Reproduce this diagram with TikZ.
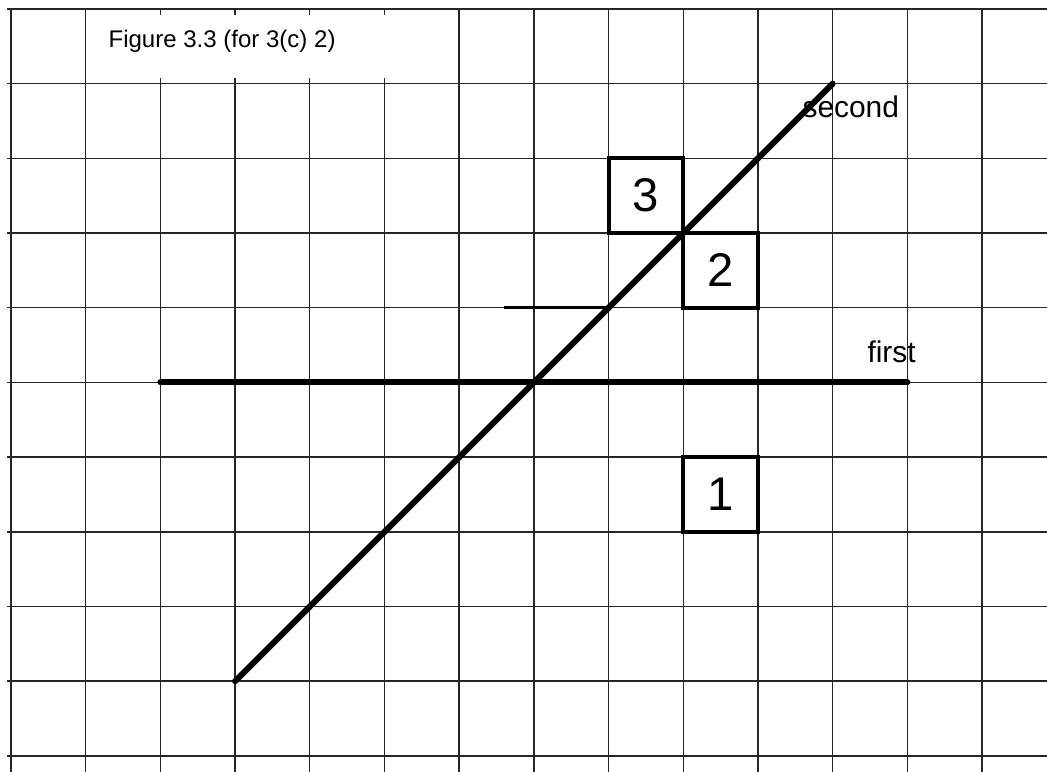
\documentclass[tikz,border=0pt]{standalone}
\usepackage{fontspec}
\setmainfont{Liberation Sans}
\usetikzlibrary{positioning}

\begin{document}
\begin{tikzpicture}[
      gridline/.style={line width=0.55pt, black!85},
      plotline/.style={line width=2.3pt, line cap=round},
      cellbox/.style={
        draw,
        line width=1.5pt,
        minimum size=1cm,
        inner sep=0pt,
        font=\fontsize{18}{20}\selectfont
      },
      linelabel/.style={anchor=base west, inner sep=0pt, font=\fontsize{11.4}{13}\selectfont}
    ]
      \path[use as bounding box] (-0.147,-0.214) rectangle (13.87,10.12);

      % Grid paper
      \foreach \i in {0,...,13}
        \draw[gridline] (\i,-0.3) -- (\i,10);
      \foreach \j in {0,...,10}
        \draw[gridline] (-0.05,\j) -- (13.9,\j);

      % Title
      \fill[white] (1.06,9.08) rectangle (5.1,9.92);
      \node[anchor=base west, inner sep=0pt, font=\fontsize{9.15}{11}\selectfont] (title) at (1.3,9.48) {Figure 3.3 (for 3(c) 2)};

      % Lines
      \coordinate (f1) at (2,5);
      \coordinate (f2) at (12,5);
      \coordinate (s1) at (3,1);
      \coordinate (s2) at (11,9);
      \coordinate (m1) at (6.6,6);
      \coordinate (m2) at (8,6);
      \draw[line width=1.1pt] (m1) -- (m2);
      \draw[plotline] (f1) -- (f2);
      \draw[plotline] (s1) -- (s2);

      \node[linelabel] (first) at (11.46,5.27) {first};
      \node[linelabel] (second) at (10.59,8.55) {second};

      % Numbered cells
      \node[cellbox] (c3) at (8.5,7.5) {3};
      \node[cellbox] (c2) at (9.5,6.5) {2};
      \node[cellbox] (c1) at (9.5,3.5) {1};
    \end{tikzpicture}
\end{document}
